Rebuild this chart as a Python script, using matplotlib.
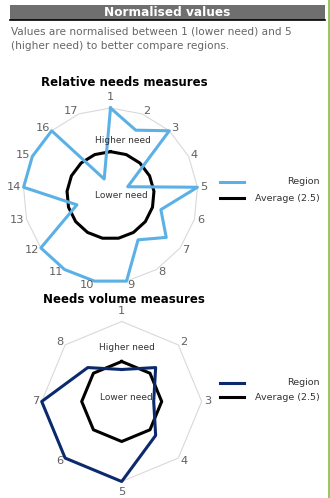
import numpy as np
import matplotlib
matplotlib.use("Agg")
import matplotlib.pyplot as plt
from matplotlib.patches import Rectangle
from matplotlib.lines import Line2D

# data
rel_labels = [str(i) for i in range(1, 18)]
rel_region = [5, 4, 5, 1.1, 5, 3, 4, 3, 5, 5, 5, 5, 2, 5, 5, 5, 1]
vol_labels = [str(i) for i in range(1, 9)]
vol_region = [2, 3, 2, 3, 5, 5, 5, 3]
average = 2.5
r_max = 5

W, H = 330, 498
fig = plt.figure(figsize=(W / 100, H / 100), dpi=100)


def fx(x):
    return x / W


def fy(y):
    return 1 - y / H


# header
fig.patches.append(Rectangle((fx(10), fy(20)), fx(315), 15 / H, transform=fig.transFigure,
                             facecolor="#6f6f6f", edgecolor="none"))
fig.lines.append(Line2D([fx(10), fx(325)], [fy(20.5), fy(20.5)], transform=fig.transFigure,
                        color="black", lw=1.2))
fig.text(fx(167), fy(12.5), "Normalised values", color="white", fontsize=8.7,
         fontweight="bold", ha="center", va="center")
fig.text(fx(11), fy(32), "Values are normalised between 1 (lower need) and 5",
         color="#666666", fontsize=7.6, ha="left", va="center")
fig.text(fx(11), fy(46), "(higher need) to better compare regions.",
         color="#666666", fontsize=7.6, ha="left", va="center")
# green edge line
fig.lines.append(Line2D([fx(328.5), fx(328.5)], [0, 1], transform=fig.transFigure,
                        color="#79b82f", lw=1.1))


def radar(cx, cy, radius, labels, values, color, title, title_y, hi_xy, lo_xy):
    s = radius / r_max
    hw, hh = 118, 112
    ax = fig.add_axes([fx(cx - hw), fy(cy + hh), 2 * hw / W, 2 * hh / H])
    ax.set_xlim(-hw / s, hw / s)
    ax.set_ylim(-hh / s, hh / s)
    ax.axis("off")
    n = len(labels)
    th = np.arange(n + 1) * 2 * np.pi / n
    sx, sy = np.sin(th), np.cos(th)
    # outer grid
    ax.plot(r_max * sx, r_max * sy, color="#d9d9d9", lw=0.8, zorder=1)
    av = np.full(n + 1, average)
    ax.plot(av * sx, av * sy, color="black", lw=2.2, zorder=2, solid_joinstyle="round")
    v = np.array(values + values[:1])
    ax.plot(v * sx, v * sy, color=color, lw=2.2, zorder=3, solid_joinstyle="round")
    for i, lab in enumerate(labels):
        a, b = sx[i], sy[i]
        if abs(a) < 0.01:
            ha = "center"
            va = "bottom" if b > 0 else "top"
            off = (0, 4 if b > 0 else -4)
        else:
            ha = "left" if a > 0 else "right"
            va = "center"
            off = (1.8 * a, 2.5 * b)
        ax.annotate(lab, (r_max * a, r_max * b), xytext=off, textcoords="offset points",
                    ha=ha, va=va, fontsize=8.2, color="#606060")
    ax.text((hi_xy[0] - cx) / s, (cy - hi_xy[1]) / s, "Higher need", fontsize=6.5,
            color="#333333", ha="center", va="center", zorder=4)
    ax.text((lo_xy[0] - cx) / s, (cy - lo_xy[1]) / s, "Lower need", fontsize=6.5,
            color="#333333", ha="center", va="center", zorder=4)
    fig.text(fx(124), fy(title_y), title, fontsize=8.5, fontweight="bold",
             ha="center", va="center", color="black")


radar(110.5, 195.3, 87.3, rel_labels, rel_region, "#5bb1e6",
      "Relative needs measures", 82, (123.3, 140.7), (121.7, 196))
radar(121.7, 401.5, 80, vol_labels, vol_region, "#0b2a6e",
      "Needs volume measures", 299, (126.7, 347.7), (126.3, 397.7))


def legend(y1, y2, color):
    for y, c, t in [(y1, color, "Region"), (y2, "black", "Average (2.5)")]:
        fig.lines.append(Line2D([fx(220), fx(244)], [fy(y), fy(y)], transform=fig.transFigure,
                                color=c, lw=2.2))
        fig.text(fx(320), fy(y), t, fontsize=6.8, color="#333333", ha="right", va="center")


legend(181.7, 198.3, "#5bb1e6")
legend(382.7, 397.3, "#0b2a6e")

fig.savefig("out.png", dpi=100)
